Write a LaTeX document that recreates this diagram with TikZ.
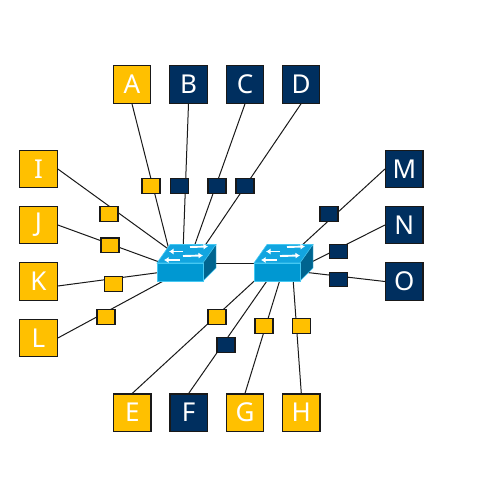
\documentclass[tikz,border=0pt]{standalone}
\usepackage{fontspec}
\setmainfont{Noto Sans}
\usetikzlibrary{backgrounds, arrows.meta}
\definecolor{goldbox}{HTML}{FFC000}
\definecolor{navybox}{HTML}{002F5F}
\definecolor{swfront}{HTML}{0098D2}
\definecolor{swtop}{HTML}{12A5E0}
\definecolor{swside}{HTML}{00648F}
\definecolor{swedge}{HTML}{45C8F2}
\begin{document}
\begin{tikzpicture}[
            x=1pt, y=-1pt,
            big/.style={rectangle, draw=black!90, line width=1.2pt, text=white, inner sep=0pt, minimum size=37.5pt, font=\fontsize{26}{26}\selectfont},
            tag/.style={rectangle, draw=black!90, line width=1.2pt, inner sep=0pt, minimum width=18pt, minimum height=14.5pt},
            gold/.style={fill=goldbox},
            navy/.style={fill=navybox},
            link/.style={black!90, line width=1pt},
            swarrow/.style={white, line width=1.9pt, -{Latex[length=4.5pt, width=6pt]}},
            switchbox/.pic={
                \fill[swtop, draw=swedge, line width=.6pt] (0,0) -- (13,-18.5) -- (59,-18.5) -- (46,0) -- cycle;
                \fill[swside, draw=swedge, line width=.4pt] (46,0) -- (59,-18.5) -- (59,5) -- (46,18) -- cycle;
                \node[rectangle, fill=swfront, draw=swedge, line width=.6pt, inner sep=0pt, minimum width=46pt, minimum height=18pt, anchor=north west] (-front) at (0,0) {};
                \draw[swarrow] (33,-16) -- (51,-16.5);
                \draw[swarrow] (26,-11.5) -- (12,-11.5);
                \draw[swarrow] (26,-7) -- (46,-7.5);
                \draw[swarrow] (23,-3) -- (7,-3);
                \coordinate (-link) at (52,0);
            },
        ]
            \useasboundingbox (0,0) rectangle (494,476);
            % terminals
            \node[big, gold](bigA) at (132,84.5) {A};
            \node[big, navy](bigB) at (188.5,84.5) {B};
            \node[big, navy](bigC) at (245,84.5) {C};
            \node[big, navy](bigD) at (301,84.5) {D};
            \node[big, gold](bigE) at (132.3,412.7) {E};
            \node[big, navy](bigF) at (188.7,412.7) {F};
            \node[big, gold](bigG) at (245,412.7) {G};
            \node[big, gold](bigH) at (301.3,412.7) {H};
            \node[big, gold](bigI) at (38.5,169) {I};
            \node[big, gold](bigJ) at (38.5,225) {J};
            \node[big, gold](bigK) at (38.5,281.5) {K};
            \node[big, gold](bigL) at (38.5,338) {L};
            \node[big, navy](bigM) at (404.3,169) {M};
            \node[big, navy](bigN) at (404.3,225) {N};
            \node[big, navy](bigO) at (404.3,281.5) {O};
            % tags on the lines
            \node[tag, gold](tagA) at (151,186) {};
            \node[tag, navy](tagB) at (179.3,186) {};
            \node[tag, navy](tagC) at (217,186) {};
            \node[tag, navy](tagD) at (245,186) {};
            \node[tag, gold](tagE) at (217,317) {};
            \node[tag, navy](tagF) at (226,345) {};
            \node[tag, gold](tagG) at (264,326) {};
            \node[tag, gold](tagH) at (301.3,326) {};
            \node[tag, gold](tagI) at (109,214) {};
            \node[tag, gold](tagJ) at (110,245.3) {};
            \node[tag, gold](tagK) at (113.7,284) {};
            \node[tag, gold](tagL) at (106,317) {};
            \node[tag, navy](tagM) at (329,214) {};
            \node[tag, navy](tagN) at (338.5,251.5) {};
            \node[tag, navy](tagO) at (338.5,279.5) {};
            % switches
            \pic (swl) at (157,263) {switchbox};
            \pic (swr) at (254,263) {switchbox};
            % line ends, under the switches
            \coordinate (endA) at (169,250);
            \coordinate (endB) at (183.2,247);
            \coordinate (endC) at (194,247);
            \coordinate (endD) at (204,247);
            \coordinate (endE) at (257,278.5);
            \coordinate (endF) at (269,278);
            \coordinate (endG) at (280.5,278);
            \coordinate (endH) at (293,278);
            \coordinate (endI) at (171,251);
            \coordinate (endJ) at (162,263);
            \coordinate (endK) at (160,272.4);
            \coordinate (endL) at (167,279);
            \coordinate (endM) at (300,247);
            \coordinate (endN) at (311,262.3);
            \coordinate (endO) at (303,272);
            \begin{scope}[on background layer]
                \draw[link] (bigA.south) -- (endA);
                \draw[link] (bigB.south) -- (endB);
                \draw[link] (bigC.south) -- (endC);
                \draw[link] (bigD.south) -- (endD);
                \draw[link] (bigE.north) -- (endE);
                \draw[link] (bigF.north) -- (endF);
                \draw[link] (bigG.north) -- (endG);
                \draw[link] (bigH.north) -- (endH);
                \draw[link] (bigI.east) -- (endI);
                \draw[link] (bigJ.east) -- (endJ);
                \draw[link] ([yshift=-4.5pt]bigK.east) -- (endK);
                \draw[link] (bigL.east) -- (endL);
                \draw[link] (bigM.west) -- (endM);
                \draw[link] (bigN.west) -- (endN);
                \draw[link] (bigO.west) -- (endO);
                \draw[link] (swl-link) -- (swr-front.north west);
            \end{scope}
        \end{tikzpicture}
\end{document}
